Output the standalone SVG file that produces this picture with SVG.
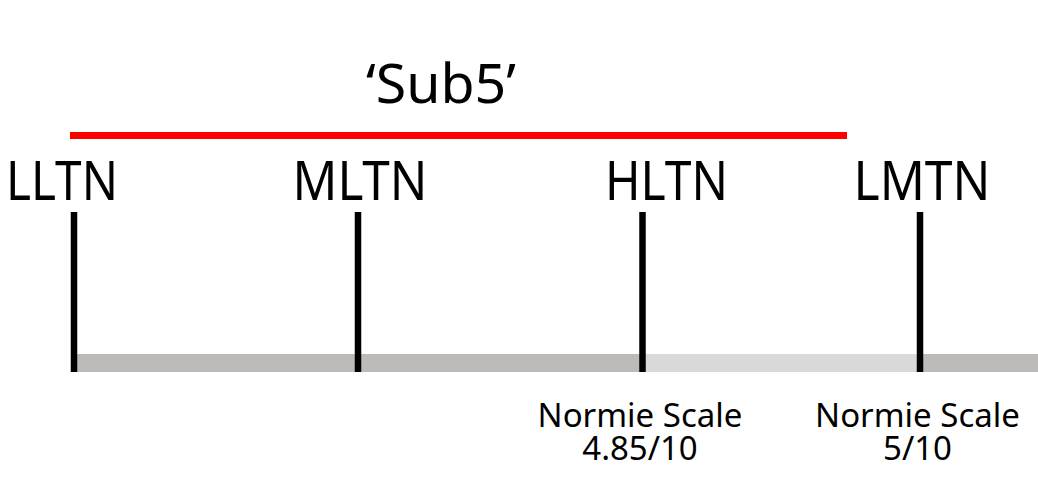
<svg xmlns="http://www.w3.org/2000/svg" width="1038" height="486" viewBox="0 0 1038 486">
  <style>
    .big { font-family: "Noto Sans", "Open Sans", sans-serif; font-size: 54px; fill: #000; text-anchor: middle; }
    .small { font-family: "Noto Sans", "Open Sans", sans-serif; font-size: 33px; fill: #000; text-anchor: middle; }
    .tick { stroke: #000; stroke-width: 6.5; }
  </style>
  <rect width="1038" height="486" fill="#fff"/>
  <g id="bar">
    <rect x="74" y="354" width="964" height="18" fill="#bebab8"/>
    <rect x="642" y="354" width="278" height="18" fill="#d9d9d9"/>
  </g>
  <g id="title">
    <text class="big" x="441" y="103" textLength="150" lengthAdjust="spacingAndGlyphs">‘Sub5’</text>
    <line x1="70" y1="135.5" x2="847" y2="135.5" stroke="#ff0000" stroke-width="7"/>
  </g>
  <g id="connectors">
    <line class="tick" x1="74" y1="212" x2="74" y2="372"/>
    <line class="tick" x1="358" y1="212" x2="358" y2="372"/>
    <line class="tick" x1="642.5" y1="212" x2="642.5" y2="372"/>
    <line class="tick" x1="920" y1="212" x2="920" y2="372"/>
  </g>
  <g id="node-lltn"><text class="big" x="62" y="200" textLength="112" lengthAdjust="spacingAndGlyphs">LLTN</text></g>
  <g id="node-mltn"><text class="big" x="360" y="200" textLength="135" lengthAdjust="spacingAndGlyphs">MLTN</text></g>
  <g id="node-hltn">
    <text class="big" x="666.5" y="200" textLength="123" lengthAdjust="spacingAndGlyphs">HLTN</text>
    <text class="small"><tspan x="640" y="427">Normie Scale</tspan><tspan x="640" y="460">4.85/10</tspan></text>
  </g>
  <g id="node-lmtn">
    <text class="big" x="922" y="200" textLength="137" lengthAdjust="spacingAndGlyphs">LMTN</text>
    <text class="small"><tspan x="917.5" y="427">Normie Scale</tspan><tspan x="917.5" y="460">5/10</tspan></text>
  </g>
</svg>
